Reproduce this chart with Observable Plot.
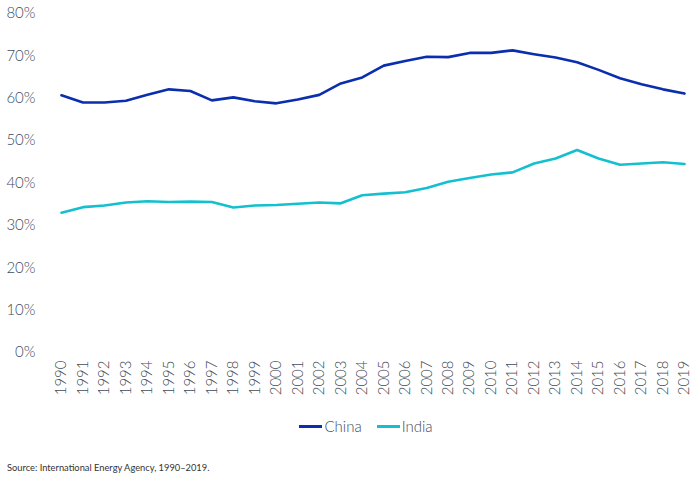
<!DOCTYPE html>
<html>
<head>
<meta charset="utf-8">
<script src="https://cdn.jsdelivr.net/npm/d3@7"></script>
<script src="https://cdn.jsdelivr.net/npm/@observablehq/plot@0.6"></script>
<style>
  body { margin: 0; background: #fff; font-family: Lato, "Open Sans", sans-serif; }
  #chart svg { display: block; }
  #chart text { font-weight: 300; }
  .legend { display: flex; justify-content: center; gap: 15px; margin-left: 32px; margin-top: 11px; font-size: 15px; font-weight: 300; color: #434b59; }
  .legend span { display: inline-flex; align-items: center; }
  .legend i { display: inline-block; width: 23px; height: 3px; margin-right: 2px; }
  .source { font-size: 9.3px; color: #333; margin: 27px 0 0 7px; font-family: Lato, sans-serif; }
</style>
</head>
<body>
<div id="chart"></div>
<div class="legend" id="legend"></div>
<div class="source">Source: International Energy Agency, 1990–2019.</div>
<script>
// Share of coal in electricity generation, 1990–2019 (%)
const years = d3.range(1990, 2020);
const china = [60.7, 59.0, 59.0, 59.4, 60.8, 62.1, 61.7, 59.5, 60.2, 59.3,
               58.8, 59.7, 60.8, 63.5, 64.9, 67.7, 68.8, 69.8, 69.7, 70.7,
               70.7, 71.3, 70.4, 69.6, 68.5, 66.7, 64.7, 63.3, 62.1, 61.1];
const india = [33.0, 34.3, 34.7, 35.4, 35.7, 35.5, 35.6, 35.5, 34.2, 34.7,
               34.8, 35.1, 35.4, 35.2, 37.1, 37.5, 37.8, 38.8, 40.3, 41.2,
               42.0, 42.5, 44.6, 45.8, 47.8, 45.8, 44.3, 44.6, 44.9, 44.5];
const seriesNames = ["China", "India"];
const seriesColors = ["#0a2eae", "#14c0cf"];
const yTicks = [0, 10, 20, 30, 40, 50, 60, 70, 80];

const rows = [];
years.forEach((yr, i) => {
  rows.push({year: yr, value: china[i], country: "China"});
  rows.push({year: yr, value: india[i], country: "India"});
});

const chart = Plot.plot({
  width: 700,
  height: 406,
  marginLeft: 61,
  marginRight: 16,
  marginTop: 13,
  marginBottom: 54,
  style: {fontFamily: "Lato, sans-serif", fontSize: "15px", color: "#434b59"},
  x: {domain: [1990, 2019], type: "linear"},
  y: {domain: [0, 80]},
  color: {domain: seriesNames, range: seriesColors},
  marks: [
    Plot.axisY({ticks: yTicks, tickSize: 0, tickPadding: 26, tickFormat: d => d + "%", label: null, fontSize: 15}),
    Plot.axisX({ticks: years, tickSize: 0, tickPadding: 8, tickFormat: d => String(d), tickRotate: -90, label: null, fontSize: 15}),
    Plot.line(rows, {x: "year", y: "value", z: "country", stroke: "country", strokeWidth: 2.6, strokeLinejoin: "round"})
  ]
});
document.getElementById("chart").appendChild(chart);

const legend = document.getElementById("legend");
seriesNames.forEach((name, i) => {
  const item = document.createElement("span");
  item.innerHTML = `<i style="background:${seriesColors[i]}"></i>${name}`;
  legend.appendChild(item);
});
</script>
</body>
</html>
